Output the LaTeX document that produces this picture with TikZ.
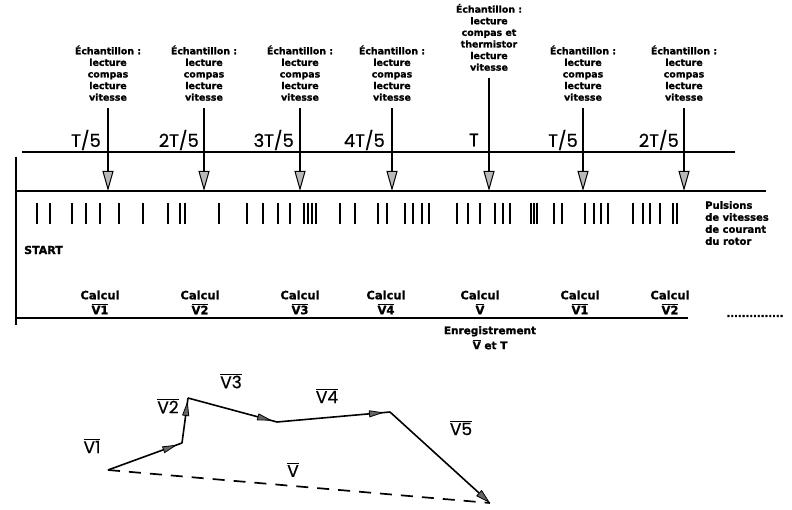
\documentclass[tikz,border=0pt]{standalone}
\usepackage{fontspec}
\setmainfont{DejaVu Sans}
\newfontfamily\heavy{DejaVu Sans Bold}[FakeBold=1.2]
\newfontfamily\lblfont{Poppins}[FakeBold=0.6]
\usetikzlibrary{arrows.meta,decorations.markings}
\newcommand\ovl[1]{$\overline{\mbox{#1}}$}
\begin{document}
\begin{tikzpicture}[x=1pt,y=-1pt,
  samp/.style={font=\heavy\fontsize{9.4}{11.6}\selectfont, align=center, anchor=south, inner sep=0pt},
  tlbl/.style={font=\lblfont\fontsize{18}{18}\selectfont, anchor=east, inner sep=0pt},
  calc/.style={font=\heavy\fontsize{11.5}{14}\selectfont, inner sep=0pt},
  side/.style={font=\heavy\fontsize{10}{12}\selectfont, inner sep=0pt},
  vlbl/.style={font=\lblfont\fontsize{17}{17}\selectfont, inner sep=0pt},
  axis/.style={line width=1.6pt},
  samparrow/.style={line width=1.3pt, -{Triangle[length=20pt,width=11pt,fill=gray!55,line width=1pt]}},
  pulse/.style={line width=2.4pt},
  vec/.style={line width=1.6pt, postaction={decorate},
    decoration={markings, mark=at position #1 with {\arrow{Triangle[length=15pt,width=7pt,fill=black!60,line width=0.8pt]}}}},
  vecend/.style={line width=1.6pt, -{Triangle[length=15pt,width=8pt,fill=black!60,line width=0.8pt]}},
]
\useasboundingbox (0,0) rectangle (792,510);

% time axes
\coordinate (u1) at (22,152); \coordinate (u2) at (735,152);
\coordinate (l1) at (16,191); \coordinate (l2) at (766,191);
\coordinate (v1) at (16,157); \coordinate (v2) at (16,325);
\coordinate (b1) at (16,318); \coordinate (b2) at (688,318);
\draw[axis] (u1) -- (u2);
\draw[axis] (l1) -- (l2);
\draw[axis] (v1) -- (v2);
\draw[axis] (b1) -- (b2);

% sample labels and arrows
\foreach \i/\x in {1/108,2/204,3/300,4/392,6/583,7/684}{
  \node[samp] (s\i) at (\x,101) {Échantillon :\\lecture\\compas\\lecture\\vitesse};
  \coordinate (a\i) at (\x,191);
  \draw[samparrow] ([yshift=-7pt]s\i.south) -- (a\i);
}
\node[samp] (s5) at (489,71) {Échantillon :\\lecture\\compas et\\thermistor\\lecture\\vitesse};
\coordinate (a5) at (489,191);
\draw[samparrow] ([yshift=-7pt]s5.south) -- (a5);

% period labels
\node[tlbl] (t1) at (101,140) {T/5};
\node[tlbl] (t2) at (199,140) {2T/5};
\node[tlbl] (t3) at (294,140) {3T/5};
\node[tlbl] (t4) at (385,140) {4T/5};
\node[tlbl] (t5) at (479,140) {T};
\node[tlbl] (t6) at (578,140) {T/5};
\node[tlbl] (t7) at (679,140) {2T/5};

% pulses
\foreach \x in {37,50,72,86,100,119,143,168,180,185,219,247,263,278,290,304,308,312,316,340,355,378,387,405,413,422,429,457,468,480,495,503,510,531,534,537,554,562,585,594,601,608,633,643,650,660,673,677}{
  \draw[pulse] (\x,203) -- (\x,224);
}
\node[side, align=left, anchor=north west] (puls) at (705,201) {Pulsions\\de vitesses\\de courant\\du rotor};
\node[calc, anchor=west, font=\heavy\fontsize{11}{13}\selectfont] (start) at (24,250) {START};

% calculations
\foreach \i/\x/\v in {1/100/V1,2/200/V2,3/300/V3,4/386/V4,5/480/V,6/580/V1,7/670/V2}{
  \node[calc] (c\i) at (\x,295) {Calcul};
  \node[calc] (d\i) at (\x,309) {\ovl{\v}};
}
\node[font=\heavy\fontsize{10}{12}\selectfont, inner sep=0pt] (dots) at (755,316) {...............};
\node[side, align=center, anchor=north, font=\heavy\fontsize{10.5}{15}\selectfont] (enr) at (490,326) {Enregistrement\\\ovl{V} et T};

% vector diagram
\coordinate (P0) at (108,470);
\coordinate (P1) at (182,443);
\coordinate (P2) at (188,398);
\coordinate (P3) at (277,422);
\coordinate (P4) at (390,412);
\coordinate (P5) at (490,503);
\draw[vec=-5pt] (P0) -- (P1);
\draw[vec=-3pt] (P1) -- (P2);
\draw[vec=-5pt] (P2) -- (P3);
\draw[vec=-6pt] (P3) -- (P4);
\draw[vecend] (P4) -- (P5);
\draw[line width=1.7pt, dash pattern=on 12pt off 9pt] (P0) -- (P5);
\node[vlbl] (n1) at (92,446) {\ovl{V1}};
\node[vlbl] (n2) at (168,406) {\ovl{V2}};
\node[vlbl] (n3) at (231,381) {\ovl{V3}};
\node[vlbl] (n4) at (327,396) {\ovl{V4}};
\node[vlbl] (n5) at (461,428) {\ovl{V5}};
\node[vlbl] (n6) at (293,470) {\ovl{V}};
\end{tikzpicture}
\end{document}
